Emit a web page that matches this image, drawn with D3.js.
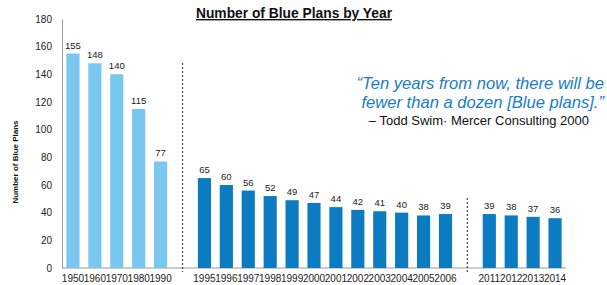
<!DOCTYPE html>
<html>
<head>
<meta charset="utf-8">
<script src="https://cdn.jsdelivr.net/npm/d3@7/dist/d3.min.js"></script>
<style>
body { margin: 0; background: #fff; }
svg text { font-family: Arial, "Liberation Sans", sans-serif; }
</style>
</head>
<body>
<svg id="chart" width="607" height="285"></svg>
<script>
// data
const years1 = ["1950", "1960", "1970", "1980", "1990"];
const values1 = [155, 148, 140, 115, 77];
const years2 = ["1995", "1996", "1997", "1998", "1999", "2000", "2001", "2002", "2003", "2004", "2005", "2006"];
const values2 = [65, 60, 56, 52, 49, 47, 44, 42, 41, 40, 38, 39];
const years3 = ["2011", "2012", "2013", "2014"];
const values3 = [39, 38, 37, 36];
const yTicks = [0, 20, 40, 60, 80, 100, 120, 140, 160, 180];

const quoteLines = ["\u201cTen years from now, there will be", "fewer than a dozen [Blue plans].\u201d"];
const quoteBy = "\u2013 Todd Swim\u00b7 Mercer Consulting 2000";

let svg = d3.select("#chart");

// one band per slot, with empty slots where the dashed breaks go
let slots = years1.concat(["gap1"], years2, ["gap2"], years3);
let bars = [];
years1.forEach((y, i) => bars.push({year: y, value: values1[i], color: "#79c6ee"}));
years2.forEach((y, i) => bars.push({year: y, value: values2[i], color: "#0b7cc2"}));
years3.forEach((y, i) => bars.push({year: y, value: values3[i], color: "#0b7cc2"}));

let x = d3.scaleBand().domain(slots).range([62, 566]).paddingInner(0.4).paddingOuter(0.2);
let y = d3.scaleLinear().domain([0, 180]).range([268, 19]);

// y axis
let yAxis = d3.axisLeft(y).tickValues(yTicks).tickSize(0).tickPadding(10);
let gy = svg.append("g").attr("transform", "translate(62,0)").call(yAxis);
gy.select(".domain").attr("stroke", "#999");
gy.selectAll("text").attr("font-size", 10).attr("fill", "#222");

// x axis baseline
svg.append("line")
  .attr("x1", 62).attr("x2", 566)
  .attr("y1", y(0)).attr("y2", y(0))
  .attr("stroke", "#999").attr("stroke-width", 1.2);

let xAxis = d3.axisBottom(x).tickValues(years1.concat(years2, years3)).tickSize(0).tickPadding(7);
let gx = svg.append("g").attr("transform", "translate(0," + y(0) + ")").call(xAxis);
gx.select(".domain").remove();
gx.selectAll("text").attr("font-size", 10).attr("fill", "#222");

// dashed breaks
svg.append("line")
  .attr("x1", x("gap1") + x.bandwidth() / 2).attr("x2", x("gap1") + x.bandwidth() / 2)
  .attr("y1", 63).attr("y2", y(0) + 4)
  .attr("stroke", "#555").attr("stroke-width", 1.3).attr("stroke-dasharray", "2,2");
svg.append("line")
  .attr("x1", x("gap2") + x.bandwidth() / 2).attr("x2", x("gap2") + x.bandwidth() / 2)
  .attr("y1", 198).attr("y2", y(0) + 4)
  .attr("stroke", "#555").attr("stroke-width", 1.3).attr("stroke-dasharray", "2,2");

// bars
svg.selectAll("rect.bar")
  .data(bars)
  .join("rect")
  .attr("class", "bar")
  .attr("x", d => x(d.year))
  .attr("y", d => y(d.value))
  .attr("width", x.bandwidth())
  .attr("height", d => y(0) - y(d.value))
  .attr("fill", d => d.color);

svg.selectAll("text.val")
  .data(bars)
  .join("text")
  .attr("class", "val")
  .attr("x", d => x(d.year) + x.bandwidth() / 2)
  .attr("y", d => y(d.value) - 5)
  .attr("text-anchor", "middle")
  .attr("font-size", 9.5)
  .attr("fill", "#222")
  .text(d => d.value);

// title
svg.append("text")
  .attr("x", 294).attr("y", 18)
  .attr("text-anchor", "middle")
  .attr("font-size", 13.8).attr("font-weight", "bold")
  .attr("text-decoration", "underline")
  .attr("fill", "#111")
  .text("Number of Blue Plans by Year");

// y label
svg.append("text")
  .attr("transform", "translate(18,162) rotate(-90)")
  .attr("text-anchor", "middle")
  .attr("font-size", 8).attr("font-weight", "bold")
  .attr("fill", "#111")
  .text("Number of Blue Plans");

// quote
svg.selectAll("text.quote")
  .data(quoteLines)
  .join("text")
  .attr("class", "quote")
  .attr("x", 604)
  .attr("y", (d, i) => 88.5 + i * 19)
  .attr("text-anchor", "end")
  .attr("font-size", 16.6).attr("font-style", "italic")
  .attr("fill", "#1a7cc6")
  .text(d => d);

svg.append("text")
  .attr("x", 589).attr("y", 125)
  .attr("text-anchor", "end")
  .attr("font-size", 13)
  .attr("fill", "#111")
  .text(quoteBy);
</script>
</body>
</html>
